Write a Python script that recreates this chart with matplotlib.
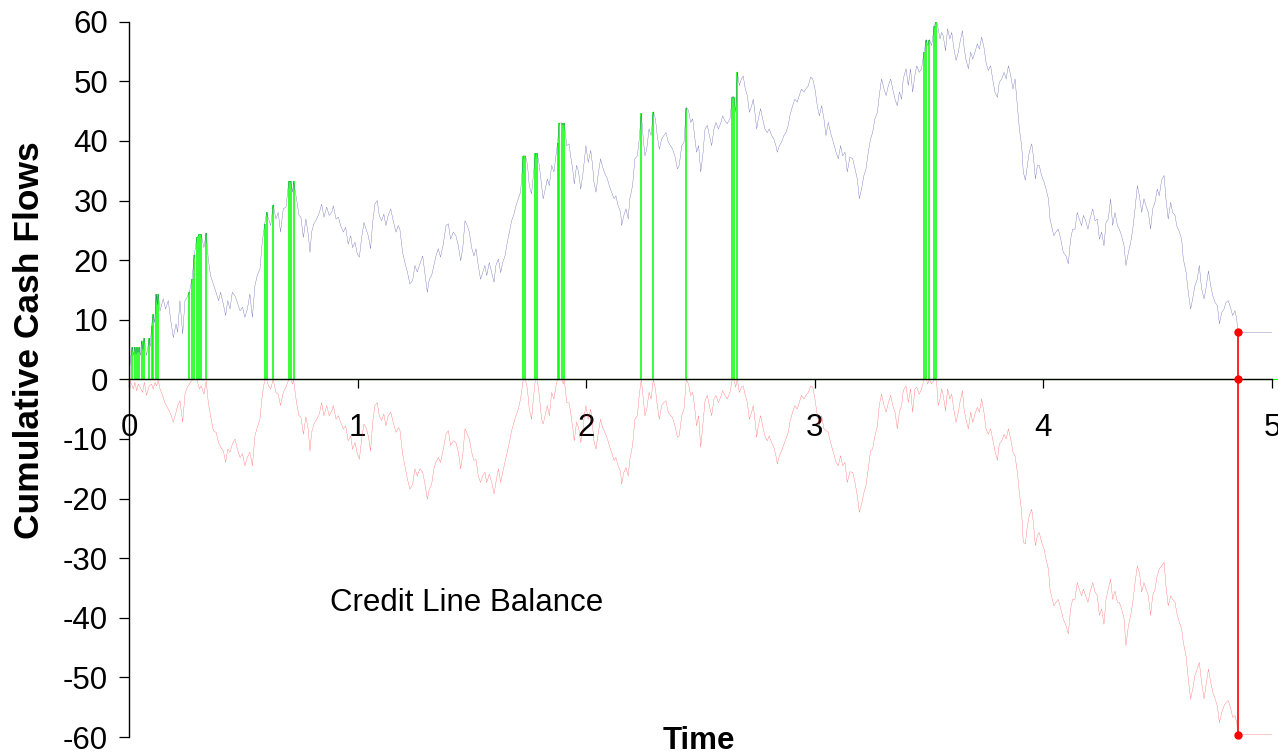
import numpy as np
import matplotlib
matplotlib.use("Agg")
import matplotlib.pyplot as plt

plt.rcParams['font.family'] = ['Liberation Sans', 'DejaVu Sans']
plt.rcParams['axes.unicode_minus'] = False

# Cumulative cash flows (time in years, value)
cash_t = [0.000, 0.006, 0.015, 0.020, 0.025, 0.031, 0.035, 0.039, 0.045, 0.050, 0.055, 0.061, 0.067, 0.077,
          0.089, 0.093, 0.099, 0.106, 0.112, 0.120, 0.124, 0.128, 0.136, 0.150, 0.160, 0.172, 0.182, 0.194,
          0.206, 0.213, 0.223, 0.235, 0.245, 0.255, 0.264, 0.276, 0.286, 0.297, 0.308, 0.316, 0.328, 0.338,
          0.347, 0.357, 0.369, 0.381, 0.392, 0.401, 0.413, 0.423, 0.432, 0.442, 0.452, 0.464, 0.474, 0.486,
          0.497, 0.507, 0.518, 0.529, 0.540, 0.551, 0.561, 0.573, 0.583, 0.594, 0.602, 0.611, 0.620, 0.631,
          0.643, 0.653, 0.663, 0.675, 0.687, 0.699, 0.707, 0.716, 0.720, 0.733, 0.744, 0.752, 0.763, 0.774,
          0.784, 0.792, 0.799, 0.809, 0.821, 0.833, 0.843, 0.853, 0.865, 0.876, 0.887, 0.894, 0.906, 0.916,
          0.926, 0.938, 0.948, 0.959, 0.970, 0.978, 0.989, 0.999, 1.008, 1.018, 1.028, 1.037, 1.047, 1.057,
          1.066, 1.076, 1.086, 1.095, 1.105, 1.115, 1.124, 1.134, 1.145, 1.156, 1.168, 1.178, 1.185, 1.197,
          1.207, 1.218, 1.229, 1.241, 1.251, 1.261, 1.273, 1.285, 1.295, 1.305, 1.314, 1.324, 1.334, 1.343,
          1.353, 1.363, 1.375, 1.387, 1.397, 1.407, 1.419, 1.430, 1.441, 1.451, 1.460, 1.470, 1.480, 1.489,
          1.499, 1.509, 1.518, 1.528, 1.538, 1.547, 1.557, 1.565, 1.576, 1.587, 1.597, 1.605, 1.616, 1.626,
          1.635, 1.645, 1.655, 1.664, 1.674, 1.684, 1.693, 1.703, 1.713, 1.725, 1.734, 1.743, 1.751, 1.761,
          1.769, 1.778, 1.786, 1.795, 1.805, 1.812, 1.820, 1.830, 1.839, 1.849, 1.859, 1.868, 1.875, 1.882,
          1.893, 1.900, 1.904, 1.915, 1.925, 1.932, 1.941, 1.948, 1.958, 1.967, 1.976, 1.985, 1.992, 1.999,
          2.009, 2.020, 2.028, 2.034, 2.043, 2.053, 2.063, 2.072, 2.082, 2.093, 2.101, 2.111, 2.122, 2.130,
          2.140, 2.151, 2.155, 2.165, 2.174, 2.184, 2.191, 2.203, 2.213, 2.224, 2.232, 2.241, 2.250, 2.257,
          2.265, 2.275, 2.284, 2.294, 2.303, 2.311, 2.320, 2.330, 2.340, 2.349, 2.359, 2.369, 2.378, 2.388,
          2.399, 2.407, 2.418, 2.428, 2.438, 2.448, 2.457, 2.466, 2.474, 2.483, 2.492, 2.501, 2.510, 2.520,
          2.530, 2.539, 2.549, 2.559, 2.568, 2.578, 2.588, 2.597, 2.607, 2.617, 2.629, 2.639, 2.646, 2.654,
          2.661, 2.670, 2.679, 2.687, 2.696, 2.705, 2.714, 2.724, 2.731, 2.738, 2.746, 2.753, 2.763, 2.772,
          2.782, 2.792, 2.801, 2.811, 2.821, 2.830, 2.836, 2.845, 2.855, 2.865, 2.874, 2.884, 2.891, 2.903,
          2.913, 2.923, 2.932, 2.942, 2.953, 2.961, 2.972, 2.982, 2.991, 3.001, 3.011, 3.020, 3.030, 3.040,
          3.049, 3.059, 3.069, 3.081, 3.093, 3.103, 3.113, 3.122, 3.132, 3.142, 3.154, 3.166, 3.176, 3.186,
          3.195, 3.205, 3.215, 3.224, 3.234, 3.244, 3.253, 3.263, 3.274, 3.282, 3.292, 3.303, 3.312, 3.322,
          3.332, 3.341, 3.351, 3.361, 3.370, 3.380, 3.387, 3.399, 3.409, 3.419, 3.428, 3.438, 3.446, 3.457,
          3.467, 3.478, 3.488, 3.494, 3.501, 3.511, 3.523, 3.532, 3.540, 3.548, 3.555, 3.562, 3.572, 3.581,
          3.591, 3.599, 3.609, 3.618, 3.628, 3.635, 3.646, 3.653, 3.661, 3.672, 3.682, 3.691, 3.701, 3.711,
          3.720, 3.730, 3.740, 3.749, 3.759, 3.769, 3.778, 3.788, 3.799, 3.807, 3.818, 3.828, 3.837, 3.847,
          3.857, 3.867, 3.876, 3.886, 3.895, 3.905, 3.912, 3.921, 3.930, 3.938, 3.949, 3.956, 3.965, 3.974,
          3.982, 3.992, 4.003, 4.011, 4.022, 4.029, 4.039, 4.046, 4.055, 4.065, 4.076, 4.087, 4.099, 4.109,
          4.119, 4.128, 4.138, 4.148, 4.157, 4.167, 4.175, 4.185, 4.195, 4.204, 4.216, 4.226, 4.236, 4.245,
          4.255, 4.265, 4.274, 4.284, 4.294, 4.303, 4.313, 4.324, 4.332, 4.342, 4.353, 4.361, 4.372, 4.382,
          4.391, 4.401, 4.411, 4.420, 4.430, 4.440, 4.449, 4.459, 4.469, 4.478, 4.488, 4.498, 4.507, 4.517,
          4.528, 4.536, 4.546, 4.557, 4.565, 4.576, 4.583, 4.595, 4.605, 4.612, 4.624, 4.634, 4.644, 4.653,
          4.663, 4.673, 4.682, 4.692, 4.703, 4.711, 4.722, 4.732, 4.741, 4.751, 4.761, 4.770, 4.780, 4.790,
          4.799, 4.809, 4.820, 4.828, 4.838, 4.846, 4.850, 5.000]
cash_v = [0.0, 3.2, 5.4, 4.0, 5.4, 4.2, 5.4, 4.5, 5.4, 4.0, 6.5, 5.0, 6.9, 4.0,
          6.9, 5.5, 9.0, 10.9, 9.5, 14.3, 12.5, 14.3, 11.5, 13.5, 11.8, 13.2, 10.1, 7.0,
          9.3, 7.9, 13.2, 7.6, 13.2, 13.8, 14.6, 16.8, 20.9, 23.8, 24.3, 24.3, 22.1, 24.6,
          20.2, 17.4, 16.0, 14.6, 13.2, 14.6, 12.6, 10.7, 13.2, 11.8, 14.6, 14.0, 12.9, 11.5,
          12.1, 10.4, 11.8, 14.3, 10.4, 15.7, 17.4, 18.5, 23.0, 26.1, 28.0, 26.9, 25.8, 29.3,
          26.9, 28.0, 24.7, 28.6, 28.9, 33.2, 33.2, 31.4, 33.2, 30.3, 27.5, 27.2, 23.8, 26.9,
          24.4, 21.3, 24.7, 26.1, 26.9, 28.0, 29.4, 27.2, 28.9, 27.5, 28.0, 29.1, 26.9, 27.2,
          25.8, 24.7, 25.5, 22.7, 24.1, 22.1, 23.0, 21.0, 20.5, 23.8, 26.3, 25.2, 24.1, 21.9,
          26.3, 29.4, 30.0, 27.5, 26.6, 27.7, 25.8, 27.5, 28.6, 26.6, 24.7, 25.8, 25.2, 21.3,
          19.6, 18.0, 16.0, 16.6, 19.1, 18.0, 19.4, 20.7, 17.7, 14.6, 16.8, 17.4, 19.1, 20.7,
          21.9, 20.5, 22.7, 25.8, 26.1, 23.5, 24.7, 24.1, 22.4, 19.9, 21.9, 26.6, 25.8, 24.7,
          22.1, 20.7, 21.9, 19.1, 16.8, 17.9, 19.1, 17.4, 19.6, 17.9, 16.3, 19.1, 20.2, 17.9,
          19.6, 20.7, 23.0, 24.7, 26.6, 27.7, 29.1, 30.3, 31.4, 37.5, 37.5, 36.1, 32.5, 31.1,
          34.2, 37.9, 37.9, 35.9, 32.5, 30.3, 31.7, 33.6, 32.5, 35.9, 34.8, 37.5, 39.7, 43.0,
          43.0, 42.6, 43.0, 39.2, 39.5, 37.5, 35.3, 32.8, 35.9, 34.8, 31.9, 34.2, 36.7, 39.2,
          36.4, 38.4, 35.9, 33.1, 31.4, 34.5, 37.0, 35.6, 34.5, 33.6, 32.5, 31.4, 30.3, 30.8,
          29.1, 28.0, 25.8, 27.5, 28.6, 26.9, 30.3, 32.5, 37.0, 37.5, 40.3, 44.6, 40.3, 37.5,
          38.6, 42.0, 40.9, 44.9, 43.7, 40.9, 38.6, 40.3, 40.9, 41.4, 39.8, 39.2, 38.6, 37.5,
          35.3, 35.9, 39.2, 39.8, 45.6, 45.1, 43.1, 43.7, 40.9, 38.1, 39.2, 34.8, 37.5, 42.0,
          42.6, 40.9, 39.2, 42.0, 43.1, 42.0, 42.9, 44.2, 43.4, 42.9, 43.7, 47.4, 47.4, 44.8,
          51.6, 49.3, 50.4, 50.9, 48.7, 47.6, 44.8, 45.9, 47.0, 44.8, 42.0, 43.7, 45.4, 43.7,
          42.0, 41.4, 42.0, 40.9, 40.3, 39.2, 38.1, 39.2, 39.8, 40.9, 41.4, 42.6, 44.2, 45.9,
          47.0, 46.5, 47.6, 48.7, 48.2, 48.7, 49.3, 50.7, 50.4, 48.7, 45.9, 44.2, 45.9, 43.7,
          40.9, 43.1, 41.4, 39.8, 38.1, 37.0, 39.2, 37.5, 38.1, 34.8, 37.3, 37.0, 35.3, 33.6,
          30.3, 32.0, 34.2, 35.3, 38.1, 40.3, 41.4, 43.7, 44.8, 47.6, 50.4, 48.7, 47.6, 49.3,
          50.4, 48.7, 47.0, 45.9, 48.2, 47.0, 50.4, 52.1, 49.3, 52.1, 48.2, 51.0, 52.6, 51.5,
          52.1, 54.9, 57.0, 56.0, 57.0, 56.0, 59.3, 60.3, 58.8, 57.1, 58.2, 57.6, 55.1, 58.8,
          57.1, 58.2, 55.4, 53.5, 54.9, 56.5, 58.5, 55.7, 53.7, 52.1, 54.9, 53.7, 54.9, 56.3,
          55.4, 57.4, 55.7, 53.2, 51.8, 52.6, 50.4, 48.2, 47.3, 49.8, 50.4, 51.5, 50.4, 52.6,
          51.0, 48.7, 50.4, 45.9, 42.0, 39.2, 34.8, 33.4, 35.9, 38.1, 39.5, 37.5, 33.6, 35.9,
          35.9, 34.2, 33.1, 32.0, 30.3, 26.9, 25.2, 24.1, 24.7, 25.2, 23.5, 21.3, 20.7, 19.4,
          23.5, 25.2, 25.2, 28.0, 26.9, 25.8, 27.5, 26.6, 25.2, 26.9, 28.6, 26.6, 26.9, 23.5,
          24.7, 22.4, 26.3, 26.9, 30.3, 25.8, 28.0, 25.8, 25.2, 24.1, 22.4, 19.1, 21.3, 23.0,
          25.2, 28.6, 32.5, 30.8, 28.0, 30.3, 29.1, 28.0, 25.2, 28.6, 29.7, 31.9, 30.8, 33.4,
          34.2, 30.3, 26.9, 29.7, 28.0, 27.5, 25.8, 24.7, 23.5, 20.2, 18.0, 14.6, 11.8, 13.5,
          15.7, 16.8, 19.1, 15.2, 13.5, 15.2, 18.2, 15.7, 14.0, 12.9, 12.4, 9.3, 11.2, 11.8,
          12.9, 13.2, 11.8, 10.7, 11.5, 10.1, 7.9, 7.9]

# Credit line balance (time in years, value)
credit_t = [0.000, 0.012, 0.019, 0.026, 0.034, 0.041, 0.048, 0.060, 0.067, 0.077, 0.089, 0.099, 0.106, 0.114,
            0.121, 0.128, 0.136, 0.147, 0.157, 0.172, 0.182, 0.194, 0.206, 0.213, 0.223, 0.235, 0.245, 0.255,
            0.264, 0.274, 0.286, 0.297, 0.308, 0.316, 0.328, 0.338, 0.347, 0.357, 0.369, 0.381, 0.392, 0.401,
            0.413, 0.423, 0.432, 0.442, 0.452, 0.464, 0.474, 0.486, 0.497, 0.507, 0.518, 0.529, 0.540, 0.551,
            0.561, 0.573, 0.583, 0.594, 0.602, 0.611, 0.620, 0.631, 0.643, 0.653, 0.663, 0.675, 0.687, 0.699,
            0.707, 0.716, 0.720, 0.733, 0.744, 0.752, 0.763, 0.774, 0.784, 0.792, 0.799, 0.809, 0.821, 0.833,
            0.843, 0.853, 0.865, 0.876, 0.887, 0.894, 0.906, 0.916, 0.926, 0.938, 0.948, 0.959, 0.970, 0.978,
            0.989, 0.999, 1.008, 1.018, 1.028, 1.037, 1.047, 1.057, 1.066, 1.076, 1.086, 1.095, 1.105, 1.115,
            1.124, 1.134, 1.145, 1.156, 1.168, 1.178, 1.185, 1.197, 1.207, 1.218, 1.229, 1.241, 1.251, 1.261,
            1.273, 1.285, 1.295, 1.305, 1.314, 1.324, 1.334, 1.343, 1.353, 1.363, 1.375, 1.387, 1.397, 1.407,
            1.419, 1.430, 1.441, 1.451, 1.460, 1.470, 1.480, 1.489, 1.499, 1.509, 1.518, 1.528, 1.538, 1.547,
            1.557, 1.565, 1.576, 1.587, 1.597, 1.605, 1.616, 1.626, 1.635, 1.645, 1.655, 1.664, 1.674, 1.684,
            1.693, 1.703, 1.713, 1.725, 1.734, 1.743, 1.751, 1.761, 1.769, 1.778, 1.786, 1.795, 1.805, 1.812,
            1.820, 1.830, 1.839, 1.849, 1.859, 1.868, 1.875, 1.882, 1.893, 1.900, 1.904, 1.915, 1.925, 1.932,
            1.941, 1.948, 1.958, 1.967, 1.976, 1.985, 1.992, 1.999, 2.009, 2.020, 2.028, 2.034, 2.043, 2.053,
            2.063, 2.072, 2.082, 2.093, 2.101, 2.111, 2.122, 2.130, 2.140, 2.151, 2.155, 2.165, 2.174, 2.184,
            2.191, 2.203, 2.213, 2.224, 2.232, 2.241, 2.250, 2.257, 2.265, 2.275, 2.284, 2.294, 2.303, 2.311,
            2.320, 2.330, 2.340, 2.349, 2.359, 2.369, 2.378, 2.388, 2.399, 2.407, 2.418, 2.428, 2.438, 2.448,
            2.457, 2.466, 2.474, 2.483, 2.492, 2.501, 2.510, 2.520, 2.530, 2.539, 2.549, 2.559, 2.568, 2.578,
            2.588, 2.597, 2.607, 2.617, 2.629, 2.639, 2.646, 2.654, 2.661, 2.670, 2.679, 2.687, 2.696, 2.705,
            2.714, 2.724, 2.731, 2.738, 2.746, 2.753, 2.763, 2.772, 2.782, 2.792, 2.801, 2.811, 2.821, 2.830,
            2.836, 2.845, 2.855, 2.865, 2.874, 2.884, 2.891, 2.903, 2.913, 2.923, 2.932, 2.942, 2.953, 2.961,
            2.972, 2.982, 2.991, 3.001, 3.011, 3.020, 3.030, 3.040, 3.059, 3.069, 3.081, 3.093, 3.103, 3.113,
            3.122, 3.132, 3.142, 3.154, 3.166, 3.176, 3.186, 3.195, 3.205, 3.215, 3.224, 3.234, 3.244, 3.253,
            3.263, 3.274, 3.282, 3.292, 3.303, 3.312, 3.322, 3.332, 3.341, 3.351, 3.361, 3.370, 3.380, 3.387,
            3.399, 3.409, 3.419, 3.428, 3.438, 3.446, 3.457, 3.467, 3.478, 3.488, 3.494, 3.501, 3.511, 3.523,
            3.532, 3.540, 3.548, 3.555, 3.562, 3.572, 3.581, 3.591, 3.599, 3.609, 3.618, 3.628, 3.635, 3.646,
            3.653, 3.661, 3.672, 3.682, 3.691, 3.701, 3.711, 3.720, 3.730, 3.740, 3.749, 3.759, 3.769, 3.778,
            3.788, 3.799, 3.807, 3.818, 3.828, 3.837, 3.847, 3.857, 3.867, 3.876, 3.886, 3.895, 3.905, 3.912,
            3.921, 3.930, 3.938, 3.949, 3.956, 3.965, 3.974, 3.982, 3.992, 4.003, 4.011, 4.022, 4.029, 4.039,
            4.046, 4.055, 4.065, 4.076, 4.087, 4.099, 4.109, 4.119, 4.128, 4.138, 4.148, 4.157, 4.167, 4.175,
            4.185, 4.195, 4.204, 4.216, 4.226, 4.236, 4.245, 4.255, 4.265, 4.274, 4.284, 4.294, 4.303, 4.313,
            4.324, 4.332, 4.342, 4.353, 4.361, 4.372, 4.382, 4.391, 4.401, 4.411, 4.420, 4.430, 4.440, 4.449,
            4.459, 4.469, 4.478, 4.488, 4.498, 4.507, 4.517, 4.528, 4.536, 4.546, 4.557, 4.565, 4.576, 4.583,
            4.595, 4.605, 4.612, 4.624, 4.634, 4.644, 4.653, 4.663, 4.673, 4.682, 4.692, 4.703, 4.711, 4.722,
            4.732, 4.741, 4.751, 4.761, 4.770, 4.780, 4.790, 4.799, 4.809, 4.820, 4.828, 4.838, 4.846, 4.850,
            5.000]
credit_v = [0.0, -0.8, -1.6, -0.5, -1.9, -0.8, -1.3, -2.2, -0.5, -2.7, -1.1, -0.8, -1.6, -0.5,
            -1.1, -0.2, -1.6, -2.7, -3.9, -5.0, -5.8, -7.2, -5.5, -4.4, -3.6, -7.2, -2.5, -1.3,
            -0.8, -0.2, 0.0, 0.0, -1.6, -1.1, -2.5, -0.2, -3.9, -6.1, -8.6, -8.9, -10.6, -11.4,
            -12.0, -13.9, -11.7, -12.2, -10.9, -10.0, -11.7, -13.1, -12.5, -14.5, -13.1, -12.2, -14.5, -9.5,
            -8.1, -6.7, -2.7, 0.0, 0.0, -1.1, -1.6, 0.0, -2.2, -2.5, -4.4, -2.2, -1.3, 0.0,
            0.0, -0.8, 0.0, -3.9, -6.1, -6.3, -9.2, -6.3, -8.3, -12.0, -8.9, -7.5, -6.7, -5.8,
            -3.9, -6.1, -4.4, -6.1, -5.3, -4.4, -6.7, -6.1, -7.2, -8.3, -7.8, -10.3, -9.5, -11.7,
            -10.6, -12.5, -13.4, -10.0, -7.5, -8.1, -9.5, -12.0, -7.2, -4.4, -3.9, -6.1, -6.9, -5.8,
            -7.8, -6.1, -5.5, -7.2, -8.9, -8.1, -8.4, -12.5, -14.5, -16.7, -18.4, -17.6, -15.0, -16.2,
            -15.0, -15.6, -17.6, -20.1, -18.4, -17.6, -15.0, -13.9, -13.1, -13.9, -11.7, -9.2, -8.6, -11.1,
            -10.3, -10.6, -12.2, -15.0, -12.8, -8.3, -9.2, -10.0, -12.2, -13.6, -13.4, -16.2, -17.3, -16.2,
            -15.6, -17.3, -15.9, -17.3, -19.2, -17.3, -15.0, -17.3, -15.6, -13.9, -12.2, -10.6, -8.6, -7.2,
            -6.1, -5.0, -3.3, 0.0, 0.0, -1.6, -5.0, -6.7, -3.3, 0.0, 0.0, -2.7, -6.7, -7.5,
            -6.1, -4.4, -6.1, -2.2, -3.3, -1.1, 0.0, 0.0, 0.0, -0.8, 0.0, -3.9, -3.9, -5.5,
            -8.1, -10.3, -7.2, -8.1, -10.6, -8.9, -6.1, -4.4, -6.7, -5.0, -7.8, -10.3, -11.7, -8.9,
            -6.7, -8.1, -8.9, -10.0, -11.1, -12.2, -13.6, -13.1, -14.5, -15.6, -17.6, -15.6, -14.8, -16.2,
            -13.4, -11.1, -6.7, -6.1, -2.7, 0.0, -3.3, -6.1, -5.0, -2.2, -3.3, 0.0, -1.6, -4.4,
            -6.7, -4.4, -3.9, -3.6, -5.5, -6.1, -6.4, -7.8, -9.7, -9.5, -6.1, -5.0, 0.0, -0.8,
            -2.7, -2.2, -4.4, -7.8, -6.1, -11.4, -7.8, -3.6, -2.7, -4.4, -6.1, -3.3, -2.7, -3.9,
            -3.0, -1.9, -2.7, -3.3, -2.2, 0.0, 0.0, -1.3, 0.0, -2.2, -1.3, -1.1, -2.7, -3.9,
            -6.7, -5.5, -4.4, -6.7, -9.7, -7.8, -6.1, -7.8, -9.5, -10.3, -9.5, -10.6, -11.4, -12.8,
            -14.2, -12.8, -12.0, -10.9, -10.0, -8.9, -7.2, -5.5, -4.4, -5.0, -3.9, -2.7, -3.3, -2.7,
            -2.2, -1.1, -1.3, -3.3, -6.1, -7.8, -6.1, -8.3, -8.9, -10.6, -12.2, -13.9, -14.5, -12.8,
            -14.5, -13.9, -17.3, -15.5, -15.6, -17.3, -19.5, -22.3, -20.9, -19.0, -17.8, -15.0, -12.0, -11.7,
            -9.5, -7.8, -4.4, -2.5, -4.4, -5.5, -3.9, -2.7, -4.4, -5.5, -8.3, -5.5, -4.4, -1.9,
            -1.1, -3.9, -1.6, -5.5, -1.6, -1.3, -2.5, -1.6, 0.0, 0.0, -0.8, 0.0, -0.8, 0.0,
            0.0, -4.4, -3.3, -1.6, -2.7, -5.3, -1.6, -3.3, -2.5, -5.3, -7.2, -5.5, -3.9, -1.9,
            -5.0, -6.7, -8.3, -5.5, -7.2, -5.8, -4.7, -5.5, -3.3, -5.5, -8.3, -9.2, -8.3, -10.0,
            -12.0, -13.6, -10.9, -10.3, -9.2, -10.0, -8.3, -10.0, -12.2, -12.8, -15.6, -19.0, -22.3, -27.3,
            -27.6, -24.6, -22.9, -21.8, -24.0, -27.9, -26.2, -25.7, -27.3, -28.5, -30.1, -31.8, -35.2, -36.9,
            -38.0, -37.4, -36.9, -38.5, -40.2, -41.3, -42.7, -38.5, -36.9, -36.9, -34.1, -35.2, -36.3, -35.2,
            -36.3, -37.4, -35.7, -34.1, -35.7, -36.3, -39.6, -38.5, -41.1, -36.9, -35.2, -33.5, -36.9, -35.5,
            -37.4, -37.4, -38.5, -40.2, -44.7, -41.3, -39.6, -37.4, -34.1, -31.3, -32.4, -35.7, -34.1, -35.2,
            -36.3, -39.6, -36.3, -35.2, -32.9, -31.8, -31.3, -30.7, -34.6, -38.0, -36.3, -36.9, -37.4, -39.1,
            -40.8, -41.9, -44.1, -46.4, -50.3, -53.6, -52.0, -49.7, -48.6, -47.5, -50.8, -53.6, -51.4, -48.6,
            -50.8, -52.5, -53.6, -54.8, -57.6, -55.9, -54.8, -54.2, -53.9, -55.3, -56.7, -56.4, -57.6, -59.6,
            -59.6]

# Dividend payments at new highs of cumulative cash flows
div_t = [0.015, 0.025, 0.035, 0.045, 0.055, 0.067, 0.089, 0.099, 0.106, 0.120, 0.128,
         0.264, 0.276, 0.286, 0.297, 0.308, 0.316, 0.338,
         0.594, 0.602, 0.631, 0.699, 0.707, 0.720,
         1.725, 1.734, 1.778, 1.786, 1.875, 1.882, 1.893, 1.904,
         2.241, 2.294, 2.438, 2.639, 2.646, 2.661,
         3.478, 3.488, 3.501, 3.523, 3.532]
div_v = [5.4, 5.4, 5.4, 5.4, 6.5, 6.9, 6.9, 9.0, 10.9, 14.3, 14.3,
         14.6, 16.8, 20.9, 23.8, 24.3, 24.3, 24.6,
         26.1, 28.0, 29.3, 33.2, 33.2, 33.2,
         37.5, 37.5, 37.9, 37.9, 39.7, 43.0, 43.0, 43.0,
         44.6, 44.9, 45.6, 47.4, 47.4, 51.6,
         54.9, 57.0, 57.0, 59.3, 60.3]

# Stopping time and the three marked levels
stop_t = 4.85
stop_cash = 7.9
stop_credit = -59.6

x_ticks = [0, 1, 2, 3, 4, 5]
y_ticks = [60, 50, 40, 30, 20, 10, 0, -10, -20, -30, -40, -50, -60]

FS = 22.5

fig = plt.figure(figsize=(12.78, 7.55), dpi=100)
ax = fig.add_axes([0.1009, 0.0238, 0.8944, 0.9475])

# green line at zero with spikes at dividend dates
ax.plot([-0.02, 5.03], [0, 0], color='#00FF00', lw=0.8, clip_on=False, zorder=1)
ax.vlines(div_t, 0, div_v, colors='#00FF00', lw=1.1, zorder=2)

ax.plot(cash_t, cash_v, color='#1a1a90', lw=0.25, alpha=0.7, zorder=3)
ax.plot(credit_t, credit_v, color='#FF2020', lw=0.25, alpha=0.7, zorder=3)

ax.plot([stop_t, stop_t], [stop_cash, stop_credit], color='#FF0000', lw=1.2, zorder=4)
ax.plot([stop_t, stop_t, stop_t], [stop_cash, 0, stop_credit], 'o', color='#FF0000',
        markersize=5, zorder=7, clip_on=False)

ax.set_xlim(0, 5)
ax.set_ylim(-60, 60)

for s in ['top', 'right']:
    ax.spines[s].set_visible(False)
ax.spines['bottom'].set_position(('data', 0))
ax.spines['bottom'].set_linewidth(1.0)
ax.spines['left'].set_linewidth(1.0)
ax.spines['bottom'].set_zorder(6)

ax.set_xticks(x_ticks)
ax.set_xticklabels([str(v) for v in x_ticks])
ax.set_yticks(y_ticks)
ax.set_yticklabels([str(v) for v in y_ticks])
ax.tick_params(axis='x', direction='out', length=6.5, width=0.9, pad=18, labelsize=FS)
ax.tick_params(axis='y', direction='out', length=7, width=0.9, pad=8, labelsize=FS)

fig.text(30 / 1278, 1 - 340 / 755, 'Cumulative Cash Flows', rotation=90, ha='center', va='center',
         fontsize=25.5, fontweight='bold')
fig.text(699 / 1278, 1 - 741 / 755, 'Time', ha='center', va='center', fontsize=FS, fontweight='bold')
ax.text(0.88, -37.6, 'Credit Line Balance', ha='left', va='center', fontsize=FS)

fig.savefig('out.png', dpi=100)
